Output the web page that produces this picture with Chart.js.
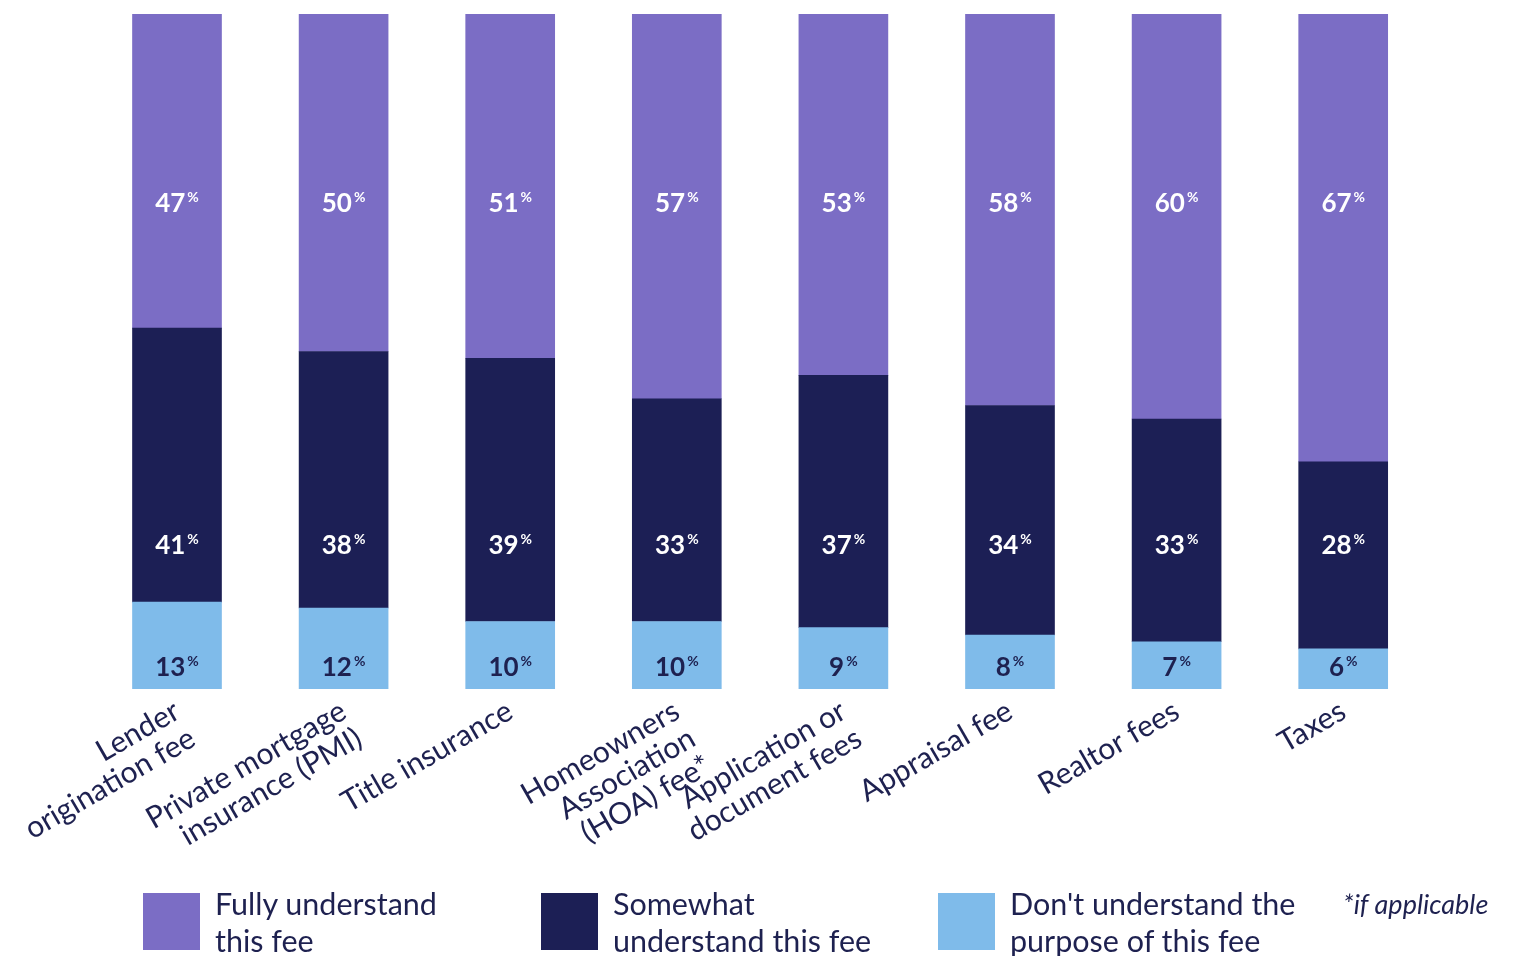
<!DOCTYPE html>
<html>
<head>
<meta charset="utf-8">
<script src="https://cdn.jsdelivr.net/npm/chart.js@4"></script>
<style>
  body { margin: 0; background: #fff; }
  #wrap { position: relative; width: 1525px; height: 956px; }
  #legend { position: absolute; left: 0; top: 0; width: 1525px; height: 956px; pointer-events: none;
            font-family: Lato, sans-serif; color: #1e2150; }
  .item { position: absolute; top: 893px; }
  .box { position: absolute; left: 0; top: 0; width: 57px; height: 57px; }
  .txt { position: absolute; left: 72px; top: -8px; font-size: 30.5px; line-height: 37px; white-space: nowrap; }
  .note { position: absolute; left: 1343px; top: 887px; font-size: 27px; font-style: italic; }
</style>
</head>
<body>
<div id="wrap">
  <canvas id="chart-1"></canvas>
  <div id="legend"></div>
</div>
<script>
const ctx1 = document.getElementById('chart-1');

var categories = [
    ['Lender', 'origination fee'],
    ['Private mortgage', 'insurance (PMI)'],
    ['Title insurance'],
    ['Homeowners', 'Association', '(HOA) fee*'],
    ['Application or', 'document fees'],
    ['Appraisal fee'],
    ['Realtor fees'],
    ['Taxes']
];
var fully = [47, 50, 51, 57, 53, 58, 60, 67];
var somewhat = [41, 38, 39, 33, 37, 34, 33, 28];
var dont = [13, 12, 10, 10, 9, 8, 7, 6];

var seriesNames = [
    ['Fully understand', 'this fee'],
    ['Somewhat', 'understand this fee'],
    ["Don't understand the", 'purpose of this fee']
];
var note = '*if applicable';

var purple = '#7b6dc5';
var navy = '#1c1f55';
var lightBlue = '#7fbbea';
var textNavy = '#1e2150';

// every bar fills the full height, so plot each answer as a share of its bar
var totals = fully.map((v, i) => v + somewhat[i] + dont[i]);
var share = arr => arr.map((v, i) => v / totals[i] * 100);

// stacked bottom-up: light blue, navy, purple
var series = [
    { name: seriesNames[2], raw: dont, color: lightBlue, labelColor: textNavy, labelAt: 3.3 },
    { name: seriesNames[1], raw: somewhat, color: navy, labelColor: '#ffffff', labelAt: 21.3 },
    { name: seriesNames[0], raw: fully, color: purple, labelColor: '#ffffff', labelAt: 72 }
];

const pctLabels = {
    id: 'pctLabels',
    afterDatasetsDraw(chart) {
        const c = chart.ctx;
        const y = chart.scales.y;
        chart.data.datasets.forEach((ds, di) => {
            const meta = chart.getDatasetMeta(di);
            meta.data.forEach((bar, i) => {
                const num = String(ds.raw[i]);
                const py = y.getPixelForValue(ds.labelAt);
                c.save();
                c.fillStyle = ds.labelColor;
                c.textBaseline = 'alphabetic';
                c.textAlign = 'left';
                c.font = 'bold 26px Lato, sans-serif';
                const w1 = c.measureText(num).width;
                c.font = 'bold 14px Lato, sans-serif';
                const w2 = c.measureText('%').width;
                const x0 = bar.x - (w1 + 2 + w2) / 2;
                c.font = 'bold 26px Lato, sans-serif';
                c.fillText(num, x0, py + 9);
                c.font = 'bold 14px Lato, sans-serif';
                c.fillText('%', x0 + w1 + 2, py - 1);
                c.restore();
            });
        });
    }
};

new Chart(ctx1, {
    type: 'bar',
    data: {
        labels: categories,
        datasets: series.map(s => ({
            label: s.name.join(' '),
            data: share(s.raw),
            raw: s.raw,
            backgroundColor: s.color,
            labelColor: s.labelColor,
            labelAt: s.labelAt,
            borderWidth: 0,
            barThickness: 89
        }))
    },
    options: {
        responsive: true,
        maintainAspectRatio: false,
        animation: false,
        layout: {
            padding: { left: 93.7, right: 98.5, top: 14, bottom: 87 }
        },
        scales: {
            x: {
                stacked: true,
                grid: { display: false, drawTicks: false },
                border: { display: false },
                ticks: {
                    autoSkip: false,
                    minRotation: 30,
                    maxRotation: 30,
                    padding: 6,
                    color: textNavy,
                    font: { family: 'Lato, sans-serif', size: 30, lineHeight: 1.05 }
                },
                afterFit(axis) {
                    axis.height = 180;
                    axis.paddingLeft = 0;
                    axis.paddingRight = 0;
                }
            },
            y: {
                stacked: true,
                display: false,
                min: 0,
                max: 100
            }
        },
        plugins: {
            legend: { display: false },
            tooltip: { enabled: false }
        }
    },
    plugins: [pctLabels]
});

// legend, in the original's left-to-right order
var legendEl = document.getElementById('legend');
var legendX = [143, 541, 938];
[series[2], series[1], series[0]].forEach((s, i) => {
    var item = document.createElement('div');
    item.className = 'item';
    item.style.left = legendX[i] + 'px';
    item.innerHTML = '<div class="box" style="background:' + s.color + '"></div>' +
        '<div class="txt">' + s.name.join('<br>') + '</div>';
    legendEl.appendChild(item);
});
var noteEl = document.createElement('div');
noteEl.className = 'note';
noteEl.textContent = note;
legendEl.appendChild(noteEl);
</script>
</body>
</html>
